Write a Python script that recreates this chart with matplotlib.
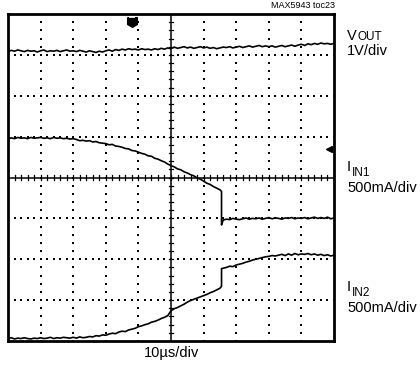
import numpy as np
import matplotlib
matplotlib.use("Agg")
import matplotlib.pyplot as plt

plt.rcParams['font.family'] = ['Liberation Sans', 'DejaVu Sans']

# ---- data (in screen divisions: x 0..10, y 0..8) ----
t = [round(0.1 * i, 1) for i in range(101)]
vout = [7.08, 7.11, 7.09, 7.12, 7.10, 7.08, 7.11, 7.09, 7.10, 7.07,
        7.10, 7.12, 7.08, 7.10, 7.09, 7.11, 7.08, 7.10, 7.12, 7.09,
        7.10, 7.08, 7.11, 7.09, 7.07, 7.10, 7.08, 7.06, 7.09, 7.07,
        7.10, 7.12, 7.09, 7.13, 7.11, 7.14, 7.12, 7.15, 7.13, 7.14,
        7.12, 7.15, 7.13, 7.14, 7.12, 7.15, 7.13, 7.16, 7.14, 7.17,
        7.15, 7.19, 7.16, 7.18, 7.20, 7.17, 7.19, 7.16, 7.18, 7.20,
        7.17, 7.19, 7.16, 7.18, 7.15, 7.17, 7.19, 7.18, 7.20, 7.17,
        7.19, 7.21, 7.18, 7.20, 7.22, 7.19, 7.21, 7.23, 7.20, 7.22,
        7.20, 7.22, 7.19, 7.21, 7.23, 7.20, 7.22, 7.24, 7.21, 7.24,
        7.26, 7.23, 7.27, 7.25, 7.28, 7.26, 7.29, 7.27, 7.28, 7.26, 7.28]

t_before = [round(0.1 * i, 1) for i in range(66)] + [6.55]
t_after = [6.55] + [round(6.6 + 0.1 * i, 1) for i in range(35)]

iin1_before = [4.94, 4.97, 4.95, 4.98, 4.96, 4.97, 4.95, 4.98, 4.96, 4.97,
               4.98, 4.96, 4.97, 4.95, 4.98, 4.96, 4.97, 4.95, 4.96, 4.94,
               4.95, 4.93, 4.90, 4.91, 4.89, 4.90, 4.87, 4.88, 4.85, 4.84,
               4.83, 4.80, 4.81, 4.77, 4.76, 4.74, 4.71, 4.70, 4.66, 4.65,
               4.62, 4.59, 4.57, 4.53, 4.52, 4.47, 4.45, 4.41, 4.38, 4.33,
               4.29, 4.26, 4.21, 4.19, 4.14, 4.11, 4.07, 4.04, 3.99, 3.96,
               3.91, 3.86, 3.83, 3.78, 3.74, 3.70, 3.66]
iin1_after = [2.84, 2.96, 2.98, 2.97, 3.00, 2.98, 2.97, 2.99, 3.01, 2.98, 3.00,
              2.99, 3.01, 2.98, 3.00, 3.02, 2.99, 3.01, 3.00, 2.98, 3.01,
              3.00, 3.02, 2.99, 3.01, 3.00, 3.02, 2.99, 3.01, 3.03, 3.00,
              3.02, 3.00, 3.03, 2.99, 3.01]

iin2_before = [0.06, 0.08, 0.05, 0.07, 0.06, 0.08, 0.06, 0.05, 0.07, 0.06,
               0.08, 0.06, 0.07, 0.09, 0.06, 0.08, 0.07, 0.09, 0.08, 0.07,
               0.09, 0.07, 0.10, 0.08, 0.09, 0.11, 0.10, 0.13, 0.12, 0.15,
               0.14, 0.17, 0.19, 0.18, 0.22, 0.24, 0.23, 0.27, 0.29, 0.31,
               0.35, 0.37, 0.40, 0.42, 0.46, 0.48, 0.51, 0.55, 0.58, 0.62,
               0.74, 0.79, 0.82, 0.86, 0.90, 0.95, 0.99, 1.02, 1.05, 1.08,
               1.11, 1.14, 1.18, 1.21, 1.25, 1.29, 1.34]
iin2_after = [1.77, 1.78, 1.80, 1.83, 1.82, 1.86, 1.88, 1.90, 1.93, 1.95, 1.98,
              2.00, 2.02, 2.04, 2.06, 2.07, 2.09, 2.08, 2.10, 2.12, 2.09,
              2.13, 2.10, 2.14, 2.11, 2.13, 2.12, 2.14, 2.11, 2.13, 2.10,
              2.12, 2.09, 2.11, 2.08, 2.10]

trigger_pos = (3.8, 7.8)
ground_pos = (9.85, 4.69)

# ---- figure ----
fig = plt.figure(figsize=(4.2, 3.73), dpi=100)
ax = fig.add_axes([8 / 420, 1 - 341 / 373, 326 / 420, 327 / 373])
ax.set_xlim(0, 10)
ax.set_ylim(0, 8)
ax.set_xticks([])
ax.set_yticks([])
for s in ax.spines.values():
    s.set_linewidth(2.0)
    s.set_color('black')

# dotted grid
fine_x = np.round(np.arange(0, 10.001, 0.2), 2)
fine_y = np.round(np.arange(0, 8.001, 0.2), 2)
gx, gy = [], []
for yv in range(1, 8):
    if yv == 4:
        continue
    gx += list(fine_x)
    gy += [yv] * len(fine_x)
for xv in range(1, 10):
    if xv == 5:
        continue
    gx += [xv] * len(fine_y)
    gy += list(fine_y)
ax.scatter(gx, gy, s=1.6, c='black', marker='s', linewidths=0, zorder=2)

# center cross with minor ticks
ax.axhline(4, color='black', lw=1.1, zorder=2)
ax.axvline(5, color='black', lw=1.1, zorder=2)
for xv in fine_x:
    ax.plot([xv, xv], [3.93, 4.07], color='black', lw=0.9, zorder=2)
for yv in fine_y:
    ax.plot([4.93, 5.07], [yv, yv], color='black', lw=0.9, zorder=2)

# traces
lw = 1.2
ax.plot(t, vout, color='black', lw=lw, zorder=3)
ax.plot(t_before + t_after, iin1_before + iin1_after, color='black', lw=lw, zorder=3)
ax.plot(t_before + t_after, iin2_before + iin2_after, color='black', lw=lw, zorder=3)

# trigger and ground markers
shield = [(-1, 1), (1, 1), (1, -0.4), (0, -1), (-1, -0.4), (-1, 1)]
ax.plot(*trigger_pos, marker=shield, ms=7, color='black', zorder=4, clip_on=False)
ax.plot(trigger_pos[0], trigger_pos[1] + 0.12, marker='_', ms=4, mew=1.2, color='white', zorder=5)
ax.plot(*ground_pos, marker='<', ms=5, color='black', zorder=4)

# texts
fs = 10.5
fs_sub = 8.5
renderer = fig.canvas.get_renderer()

def ft(x, y, s, **kw):
    return fig.text(x / 420, 1 - y / 373, s, **kw)

def label_with_sub(x, y, main, sub, sub_dy):
    tmain = ft(x, y, main, ha='left', va='baseline', fontsize=fs)
    bb = tmain.get_window_extent(renderer)
    ft(bb.x1 + 0.3, y + sub_dy, sub, ha='left', va='baseline', fontsize=fs_sub)

ft(335, 8, 'MAX5943 toc23', ha='right', va='baseline', fontsize=6.5)
label_with_sub(347, 40, 'V', 'OUT', 0)
ft(347, 55, '1V/div', ha='left', va='baseline', fontsize=fs)
label_with_sub(347, 171, 'I', 'IN1', 5)
ft(347, 192, '500mA/div', ha='left', va='baseline', fontsize=fs)
label_with_sub(347, 291, 'I', 'IN2', 5)
ft(347, 312, '500mA/div', ha='left', va='baseline', fontsize=fs)
ft(172, 357, '10µs/div', ha='center', va='baseline', fontsize=fs)

fig.savefig('out.png', dpi=100)
